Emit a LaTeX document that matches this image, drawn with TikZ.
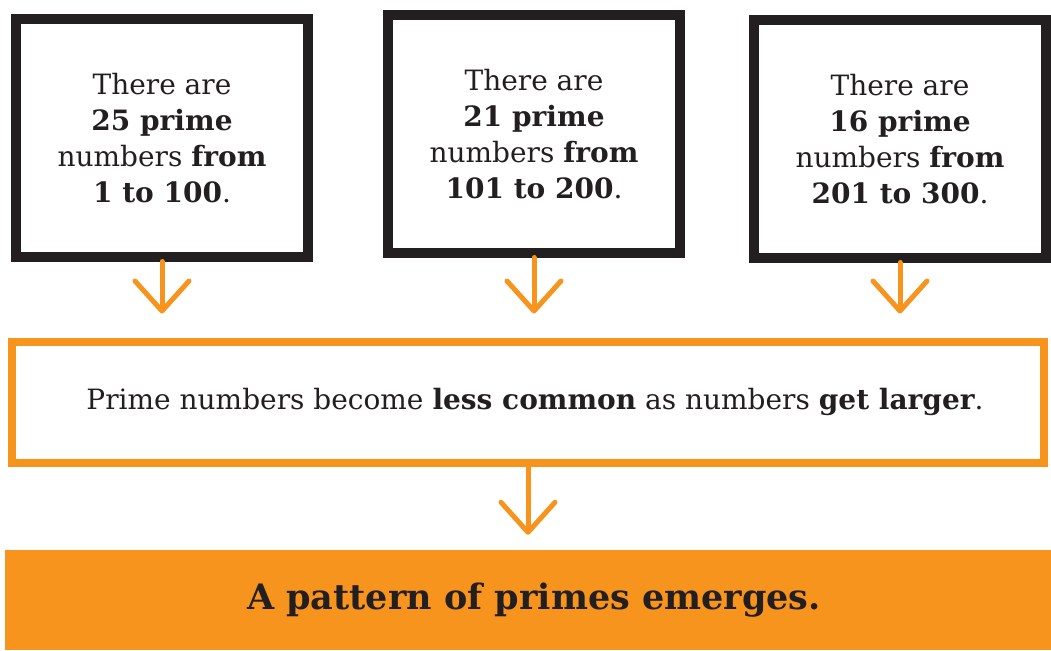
\documentclass[tikz,border=0pt]{standalone}
\usepackage{fontspec}
\setmainfont{DejaVu Serif}
\usepackage{tikz}
\usepackage{xcolor}
\usetikzlibrary{arrows.meta}

\definecolor{primeorange}{HTML}{F7941D}
\definecolor{inkblack}{HTML}{231F20}

\tikzset{
  countbox/.style={draw=inkblack, line width=10pt, minimum width=292pt,
    minimum height=237pt, align=center, text=inkblack,
    font=\fontsize{28}{36}\selectfont},
  sumbox/.style={draw=primeorange, line width=8pt, minimum width=1032pt,
    minimum height=121pt, text=inkblack, font=\fontsize{28}{32}\selectfont},
  resbox/.style={fill=primeorange, minimum width=1046pt, minimum height=100pt,
    inner sep=0pt, text=inkblack, font=\bfseries\fontsize{35}{40}\selectfont},
  flow/.style={draw=primeorange, line width=5pt, line cap=round,
    -{Straight Barb[length=30pt, width=54pt, round]}},
}

\begin{document}
\begin{tikzpicture}[x=1pt, y=-1pt]
  \useasboundingbox (0,0) rectangle (1051,650);

  \node[countbox] (c1) at (162,138) {There are\\\textbf{25 prime}\\numbers \textbf{from}\\\textbf{1 to 100}.};
  \node[countbox] (c2) at (534,134) {There are\\\textbf{21 prime}\\numbers \textbf{from}\\\textbf{101 to 200}.};
  \node[countbox] (c3) at (900,139) {There are\\\textbf{16 prime}\\numbers \textbf{from}\\\textbf{201 to 300}.};

  \node[sumbox] (mid) at (528,402) {\hspace*{14pt}Prime numbers become \textbf{less common} as numbers \textbf{get larger}.};

  \node[resbox] (res) at (528,600) {\hspace*{12pt}A pattern of primes emerges.};

  % arrows
  \foreach \n in {c1,c2,c3}
    \draw[flow, shorten >=24pt] (\n.south) -- (\n.south |- mid.north);
  \draw[flow, shorten >=15pt] (mid.south) -- (res.north);
\end{tikzpicture}
\end{document}
